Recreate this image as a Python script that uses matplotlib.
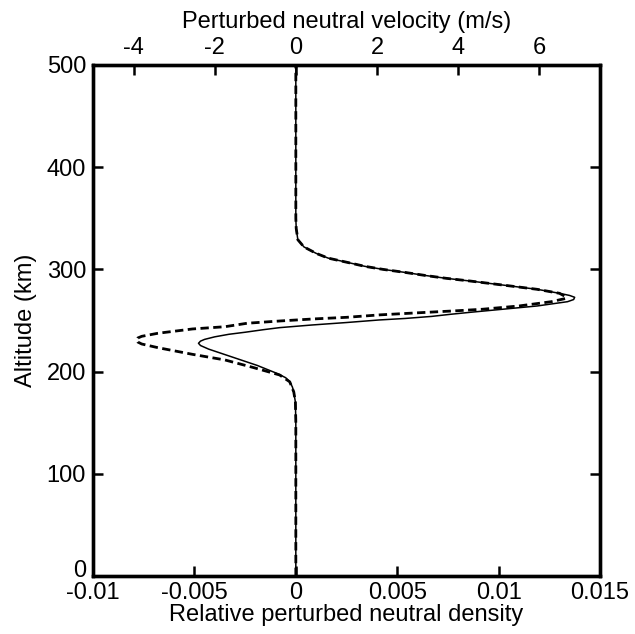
import matplotlib
matplotlib.use("Agg")
import matplotlib.pyplot as plt
from matplotlib.ticker import FuncFormatter
from matplotlib.transforms import ScaledTranslation

plt.rcParams['font.family'] = ['Liberation Sans', 'DejaVu Sans']
plt.rcParams['axes.unicode_minus'] = False

# Relative perturbed neutral density (solid, bottom axis)
alt_density = [0, 150, 170, 180, 185, 190, 194, 198, 202, 206, 210, 214, 218, 222,
               225.5, 227.7, 229.8, 231.5, 234, 236.5, 238.5, 241, 243, 245.6, 248,
               250.5, 252, 254, 256, 258, 261, 264.2, 268.4, 270.5, 272.7, 274.5,
               276.6, 280.5, 284.7, 288.6, 291.3, 294, 297, 300, 303, 306.6, 311,
               315.7, 322, 329, 340, 350, 500]
density = [0, 0, -0.00002, -0.0001, -0.00017, -0.0003, -0.0005, -0.0009, -0.0014,
           -0.0019, -0.0025, -0.0031, -0.0037, -0.0043, -0.0047, -0.0048, -0.0047,
           -0.0045, -0.0040, -0.0033, -0.0025, -0.0016, -0.0008, 0.0008, 0.0025,
           0.0041, 0.0054, 0.0067, 0.0076, 0.0086, 0.0102, 0.0119, 0.0134, 0.0137,
           0.01375, 0.0135, 0.0130, 0.0119, 0.0102, 0.0086, 0.0074, 0.0064, 0.0054,
           0.0043, 0.0034, 0.0026, 0.0016, 0.0010, 0.0004, 0.0001, 0.00002, 0, 0]

# Perturbed neutral velocity in m/s (dashed, top axis)
alt_velocity = [0, 150, 170, 180, 190, 196.7, 204, 211.4, 216.9, 223.4, 227, 229,
                230.9, 232.8, 234.5, 237.5, 241.7, 243.9, 247.3, 249.5, 251.5, 253.1,
                255.5, 257.5, 259.6, 261, 264.2, 268.4, 271.7, 274, 276.6, 280.5,
                284.7, 288.6, 291.3, 294, 297, 300, 303, 306.6, 311, 315.7, 322, 329,
                340, 350, 500]
velocity = [0, 0, -0.01, -0.05, -0.15, -0.4, -1.05, -1.75, -2.55, -3.4, -3.8, -3.9,
            -3.93, -3.9, -3.8, -3.4, -2.55, -1.75, -1.2, -0.4, 0.43, 1.25, 2.07, 3.0,
            4.0, 4.6, 5.5, 6.3, 6.67, 6.62, 6.5, 5.95, 5.1, 4.3, 3.7, 3.2, 2.7, 2.15,
            1.7, 1.3, 0.8, 0.5, 0.2, 0.05, 0.01, 0, 0]

density_ticks = [-0.01, -0.005, 0, 0.005, 0.01, 0.015]
velocity_ticks = [-4, -2, 0, 2, 4, 6]
altitude_ticks = [0, 100, 200, 300, 400, 500]

FS = 17

fig = plt.figure(figsize=(6.35, 6.34), dpi=100)
ax = fig.add_axes([0.1465, 0.0915, 0.7984, 0.806])
ax.plot(density, alt_density, color='black', lw=1.1, solid_joinstyle='round')
ax.set_xlim(-0.01, 0.015)
ax.set_ylim(0, 500)
ax.set_xticks(density_ticks)
ax.set_yticks(altitude_ticks)
ax.xaxis.set_major_formatter(FuncFormatter(lambda v, p: '%g' % v))
ax.tick_params(axis='x', which='both', direction='in', bottom=True, top=False,
               length=7, width=1.8, labelsize=FS, pad=4)
ax.tick_params(axis='y', which='both', direction='in', left=True, right=True,
               length=7, width=1.8, labelsize=FS, pad=5)
ax.set_xlabel('Relative perturbed neutral density', fontsize=FS, labelpad=0)
ax.set_ylabel('Altitude (km)', fontsize=FS, labelpad=7)
for s in ax.spines.values():
    s.set_linewidth(2.4)

# lift the "0" altitude label slightly, as in the reference
lbl0 = ax.get_yticklabels()[0]
lbl0.set_transform(lbl0.get_transform() + ScaledTranslation(0, 5.5 / 72, fig.dpi_scale_trans))

ax2 = ax.twiny()
ax2.plot(velocity, alt_velocity, color='black', lw=2.0, dashes=(3, 1.6),
         dash_joinstyle='round')
ax2.set_xlim(-5, 7.5)
ax2.set_xticks(velocity_ticks)
ax2.xaxis.set_major_formatter(FuncFormatter(lambda v, p: '%g' % v))
ax2.tick_params(axis='x', direction='in', top=True, bottom=False,
                length=7, width=1.8, labelsize=FS, pad=4)
ax2.set_xlabel('Perturbed neutral velocity (m/s)', fontsize=FS, labelpad=7)
for s in ax2.spines.values():
    s.set_linewidth(2.4)

fig.savefig('out.png', dpi=100)
